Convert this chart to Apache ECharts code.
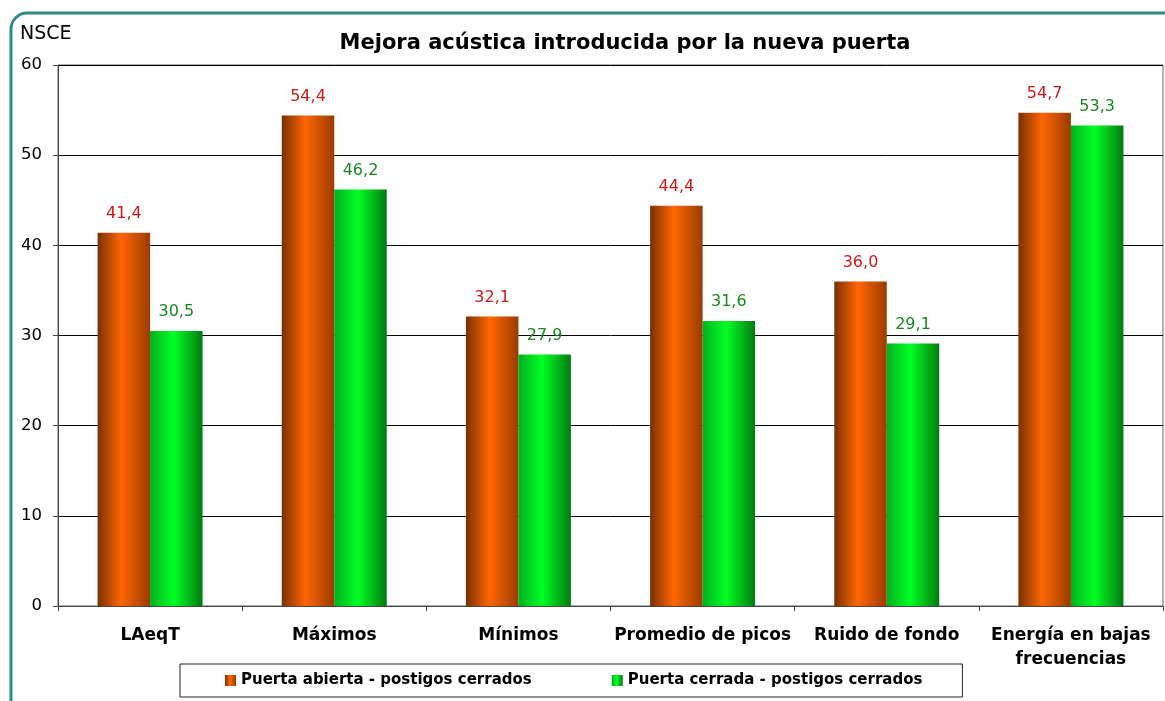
<!DOCTYPE html>
<html>
<head>
<meta charset="utf-8">
<script src="https://cdn.jsdelivr.net/npm/echarts@6/dist/echarts.min.js"></script>
<style>
  html, body { margin: 0; padding: 0; background: #fff; }
  #chart { width: 1165px; height: 701px; }
</style>
</head>
<body>
<div id="chart"></div>
<script>
const categories = ['LAeqT', 'Máximos', 'Mínimos', 'Promedio de picos', 'Ruido de fondo', 'Energía en bajas\nfrecuencias']
const abierta = [41.4, 54.4, 32.1, 44.4, 36.0, 54.7]
const cerrada = [30.5, 46.2, 27.9, 31.6, 29.1, 53.3]
const yTicks = { min: 0, max: 60, interval: 10 }

// formato con coma decimal
const fmt = p => p.value.toFixed(1).replace('.', ',')

const orange = new echarts.graphic.LinearGradient(0, 0, 1, 0, [
  { offset: 0, color: '#7a3000' },
  { offset: 0.45, color: '#ff6600' },
  { offset: 1, color: '#9a3c00' }
])
const green = new echarts.graphic.LinearGradient(0, 0, 1, 0, [
  { offset: 0, color: '#00b020' },
  { offset: 0.45, color: '#00ff22' },
  { offset: 1, color: '#007a10' }
])

const chart = echarts.init(document.getElementById('chart'))
chart.setOption({
  animation: false,
  textStyle: { fontFamily: 'DejaVu Sans' },
  graphic: [
    {
      type: 'rect',
      shape: { x: 11, y: 13, width: 1180, height: 720, r: 16 },
      style: { fill: 'none', stroke: '#2f8c88', lineWidth: 3 },
      z: 100
    },
    {
      type: 'text',
      left: 20, top: 25,
      style: { text: 'NSCE', font: '19px "DejaVu Sans"', fill: '#000' }
    }
  ],
  title: {
    text: 'Mejora acústica introducida por la nueva puerta',
    left: 620, top: 28, textAlign: 'center',
    textStyle: { fontSize: 21, fontWeight: 'bold', color: '#000', fontFamily: 'DejaVu Sans' }
  },
  legend: {
    left: 180, top: 664,
    padding: [9, 40, 9, 45],
    itemGap: 80,
    itemWidth: 11, itemHeight: 11,
    backgroundColor: '#fff',
    borderColor: '#222', borderWidth: 1,
    textStyle: { fontSize: 15, fontWeight: 'bold', fontFamily: 'DejaVu Sans', color: '#000' },
    data: [
      { name: 'Puerta abierta - postigos cerrados', icon: 'rect' },
      { name: 'Puerta cerrada - postigos cerrados', icon: 'rect' }
    ]
  },
  grid: {
    left: 58, right: 2, top: 65, bottom: 95,
    show: true, borderColor: '#666', borderWidth: 1
  },
  xAxis: {
    type: 'category',
    data: categories,
    axisLine: { lineStyle: { color: '#444' } },
    axisTick: { show: true, length: 5, lineStyle: { color: '#444' } },
    axisLabel: {
      interval: 0, margin: 18, color: '#000',
      fontSize: 17, fontWeight: 'bold', fontFamily: 'DejaVu Sans', lineHeight: 24
    }
  },
  yAxis: {
    type: 'value',
    min: yTicks.min, max: yTicks.max, interval: yTicks.interval,
    axisLine: { show: true, lineStyle: { color: '#444' } },
    axisTick: { show: true, length: 5, lineStyle: { color: '#444' } },
    axisLabel: { color: '#000', fontSize: 16.5, margin: 16 },
    splitLine: { lineStyle: { color: '#000', width: 1 } }
  },
  series: [
    {
      name: 'Puerta abierta - postigos cerrados',
      type: 'bar',
      data: abierta,
      barGap: '0%',
      barCategoryGap: '43%',
      itemStyle: { color: orange },
      label: { show: true, position: 'top', distance: 11, color: '#d01818', fontSize: 16, formatter: fmt }
    },
    {
      name: 'Puerta cerrada - postigos cerrados',
      type: 'bar',
      data: cerrada,
      itemStyle: { color: green },
      label: { show: true, position: 'top', distance: 11, color: '#168a1e', fontSize: 16, formatter: fmt }
    }
  ]
})
</script>
</body>
</html>
